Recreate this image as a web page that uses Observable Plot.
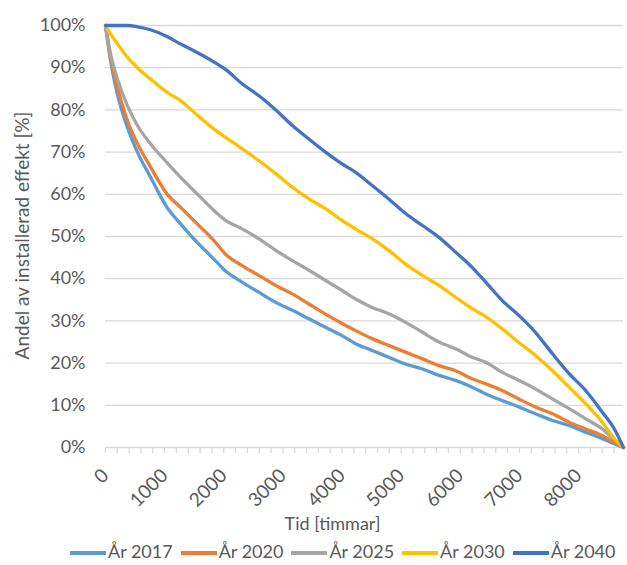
<!DOCTYPE html>
<html>
<head>
<meta charset="utf-8">
<script src="https://cdn.jsdelivr.net/npm/d3@7"></script>
<script src="https://cdn.jsdelivr.net/npm/@observablehq/plot@0.6"></script>
<style>
  html, body { margin: 0; padding: 0; background: #fff; }
  body { width: 627px; height: 565px; overflow: hidden; font-family: Lato, sans-serif; }
  #legend { display: flex; align-items: center; height: 28px; padding-left: 70px; font-size: 18px; color: #595959; }
  #legend .item { display: flex; align-items: center; margin-right: 8px; }
  #legend .sw { width: 36px; height: 4px; margin-right: 2px; margin-top: 3px; }
</style>
</head>
<body>
<div id="chart"></div>
<div id="legend"></div>
<script>
const hours = [0, 85, 200, 370, 540, 760, 1040, 1270, 1550, 1830, 2030, 2310, 2590, 2880, 3160, 3440, 3720, 4000, 4230, 4510, 4790, 5070, 5360, 5640, 5920, 6200, 6430, 6710, 6990, 7270, 7560, 7840, 8120, 8400, 8600, 8760];

const y2017 = [100, 91.7, 83.8, 75.9, 70.0, 64.1, 56.9, 53.0, 48.6, 44.7, 41.8, 39.2, 36.8, 34.4, 32.5, 30.5, 28.5, 26.5, 24.6, 23.0, 21.4, 19.8, 18.6, 17.1, 15.9, 14.3, 12.7, 11.1, 9.6, 8.0, 6.4, 5.2, 3.6, 2.1, 0.9, 0];
const y2020 = [100, 92.5, 85.4, 77.5, 72.0, 66.5, 60.1, 56.9, 53.0, 49.1, 45.8, 43.1, 40.8, 38.4, 36.4, 34.0, 31.6, 29.4, 27.7, 25.8, 24.2, 22.6, 21.0, 19.4, 18.2, 16.3, 15.1, 13.5, 11.5, 9.6, 8.0, 6.0, 4.4, 2.8, 1.3, 0];
const y2025 = [100, 93.3, 87.4, 81.0, 76.3, 72.0, 67.5, 64.0, 60.1, 56.2, 53.8, 51.8, 49.5, 46.7, 44.3, 42.0, 39.6, 37.2, 35.2, 33.2, 31.7, 29.7, 27.3, 25.0, 23.4, 21.4, 20.2, 17.8, 15.9, 13.9, 11.5, 9.2, 6.8, 4.4, 1.9, 0];
const y2030 = [100, 98.0, 95.7, 92.5, 90.0, 87.3, 84.2, 82.2, 78.8, 75.5, 73.5, 70.8, 68.0, 64.9, 61.7, 58.9, 56.6, 53.8, 51.8, 49.5, 46.7, 43.5, 40.8, 38.4, 35.6, 32.9, 31.0, 28.1, 24.9, 21.8, 18.2, 14.3, 10.4, 6.0, 2.2, 0];
const y2040 = [100, 100, 100, 100, 99.7, 99.0, 97.4, 95.6, 93.6, 91.4, 89.6, 86.2, 83.4, 80.0, 76.3, 73.1, 70.0, 67.2, 65.2, 62.1, 58.9, 55.5, 52.6, 49.8, 46.3, 42.7, 39.2, 34.8, 31.3, 27.3, 22.2, 17.5, 13.5, 8.4, 4.5, 0];

const seriesNames = ["År 2017", "År 2020", "År 2025", "År 2030", "År 2040"];
const seriesValues = [y2017, y2020, y2025, y2030, y2040];
const seriesColors = ["#5B9BD5", "#ED7D31", "#A5A5A5", "#FFC000", "#4472C4"];

const yTicks = [0, 10, 20, 30, 40, 50, 60, 70, 80, 90, 100];
const xTickLabels = [0, 1000, 2000, 3000, 4000, 5000, 6000, 7000, 8000];
const xMinorTicks = d3.range(0, 8760, 200);

const yAxisTitle = "Andel av installerad effekt [%]";
const xAxisTitle = "Tid [timmar]";

const table = seriesNames.flatMap((name, i) =>
  hours.map((h, j) => ({series: name, hour: h, value: seriesValues[i][j]}))
);

const grid = "#d9d9d9";
const textColor = "#595959";

const chart = Plot.plot({
  width: 627,
  height: 537,
  marginLeft: 105,
  marginRight: 4,
  marginTop: 25,
  marginBottom: 90,
  style: {fontFamily: "Lato, sans-serif", fontSize: "18px", color: textColor, background: "#fff"},
  x: {domain: [0, 8760]},
  y: {domain: [0, 100]},
  color: {domain: seriesNames, range: seriesColors},
  marks: [
    Plot.ruleY(yTicks, {stroke: grid, strokeWidth: 1.3}),
    Plot.axisY({ticks: yTicks, tickSize: 0, tickPadding: 20, tickFormat: d => d + "%", label: null, fill: textColor}),
    Plot.axisX({ticks: xMinorTicks, tickSize: 6, tickFormat: () => "", stroke: grid, strokeWidth: 1.3, label: null}),
    Plot.axisX({ticks: xTickLabels, tickSize: 0, tickPadding: 25, tickRotate: -45, tickFormat: d => String(d), label: null, fill: textColor, fontSize: 19}),
    Plot.text([yAxisTitle], {frameAnchor: "left", textAnchor: "middle", lineAnchor: "middle", rotate: -90, dx: -83, dy: -1, fill: textColor, fontSize: 19}),
    Plot.text([xAxisTitle], {frameAnchor: "bottom", textAnchor: "middle", dx: -32, dy: 82, fill: textColor, fontSize: 18}),
    Plot.line(table, {x: "hour", y: "value", z: "series", stroke: "series", strokeWidth: 3.3, strokeLinejoin: "round", strokeLinecap: "round", curve: "monotone-x"})
  ]
});
document.getElementById("chart").appendChild(chart);

const legend = document.getElementById("legend");
seriesNames.forEach((name, i) => {
  const item = document.createElement("div");
  item.className = "item";
  const sw = document.createElement("span");
  sw.className = "sw";
  sw.style.background = seriesColors[i];
  const label = document.createElement("span");
  label.textContent = name;
  item.appendChild(sw);
  item.appendChild(label);
  legend.appendChild(item);
});
</script>
</body>
</html>
